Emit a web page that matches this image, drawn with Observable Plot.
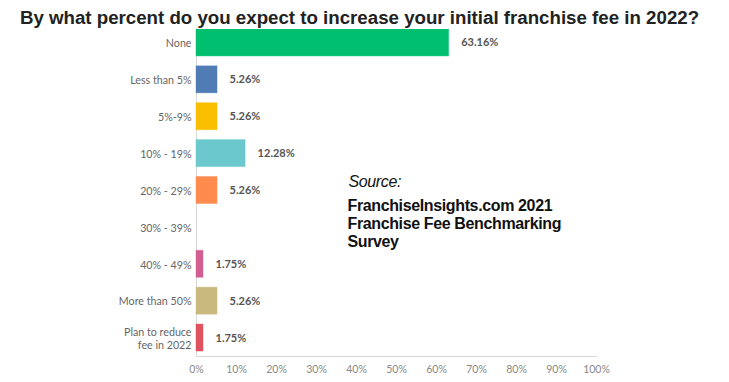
<!DOCTYPE html>
<html>
<head>
<meta charset="utf-8">
<script src="https://cdn.jsdelivr.net/npm/d3@7"></script>
<script src="https://cdn.jsdelivr.net/npm/@observablehq/plot@0.6"></script>
<style>
  body { margin: 0; background: #fff; width: 729px; height: 382px; overflow: hidden; position: relative; }
  #title { position: absolute; top: 8px; left: -5px; width: 729px; font: bold 18.7px "Liberation Sans", Arial, sans-serif; line-height: 19px; color: #222; text-align: center; white-space: nowrap; z-index: 2; }
  #chart { position: absolute; top: 29px; left: 0; }
  #chart svg { display: block; }
</style>
</head>
<body>
<div id="title">By what percent do you expect to increase your initial franchise fee in 2022?</div>
<div id="chart"></div>
<script>
const categories = ["None", "Less than 5%", "5%-9%", "10% - 19%", "20% - 29%", "30% - 39%", "40% - 49%", "More than 50%", "Plan to reduce\nfee in 2022"];
const values = [63.16, 5.26, 5.26, 12.28, 5.26, 0, 1.75, 5.26, 1.75];
const colors = ["#00bf6f", "#507cb6", "#f9be00", "#6bc8cd", "#ff8b4f", "#7f7fff", "#d25f90", "#c9b97e", "#e05260"];
const xTicks = [0, 10, 20, 30, 40, 50, 60, 70, 80, 90, 100];
const sourceLabel = "Source:";
const sourceText = "FranchiseInsights.com 2021\nFranchise Fee Benchmarking\nSurvey";

const data = categories.map((c, i) => ({category: c, value: values[i], color: colors[i]}));

const H = 353, MB = 26;
const plot = Plot.plot({
  width: 729,
  height: H,
  marginLeft: 196,
  marginRight: 133,
  marginTop: 0,
  marginBottom: MB,
  style: {fontFamily: "Lato, 'Open Sans', sans-serif", background: "transparent"},
  x: {domain: [0, 100], ticks: xTicks, label: null},
  y: {domain: categories, range: [-5, H - MB], paddingInner: 0.268, paddingOuter: 0.134, round: false, label: null},
  marks: [
    Plot.gridX(xTicks, {stroke: "#e6e6e6", strokeOpacity: 1, y1: 0, y2: H - MB}),
    Plot.ruleX([0], {stroke: "#d8d8d8"}),
    Plot.frame({anchor: "bottom", stroke: "#d8d8d8"}),
    Plot.barX(data, {y: "category", x: "value", fill: "color", stroke: "color", strokeOpacity: 0.4}),
    Plot.text(data.filter(d => d.value > 0), {y: "category", x: "value", text: d => d.value.toFixed(2) + "%", textAnchor: "start", dx: 12, fontSize: 11, fontWeight: "bold", fill: "#555"}),
    Plot.axisX({ticks: xTicks, tickFormat: d => d + "%", tickSize: 0, tickPadding: 9, fontSize: 10.5, fill: "#888", label: null}),
    Plot.axisY({tickSize: 0, tickPadding: 5, fontSize: 10.7, fill: "#666", label: null, lineHeight: 1.25}),
    Plot.text([sourceLabel], {frameAnchor: "top-left", dx: 152, dy: 146, textAnchor: "start", lineAnchor: "top", fontSize: 16, fontStyle: "italic", fontFamily: "'Liberation Sans', Arial, sans-serif", fill: "#111"}),
    Plot.text([sourceText], {frameAnchor: "top-left", dx: 151, dy: 169, textAnchor: "start", lineAnchor: "top", lineHeight: 1.125, fontSize: 16, fontWeight: "bold", fontFamily: "'Liberation Sans', Arial, sans-serif", fill: "#111"})
  ]
});
plot.querySelectorAll("g[aria-label=text] text").forEach(t => {
  if (/Franchise|Source/.test(t.textContent)) t.style.letterSpacing = "-0.37px";
});
document.getElementById("chart").appendChild(plot);
</script>
</body>
</html>
